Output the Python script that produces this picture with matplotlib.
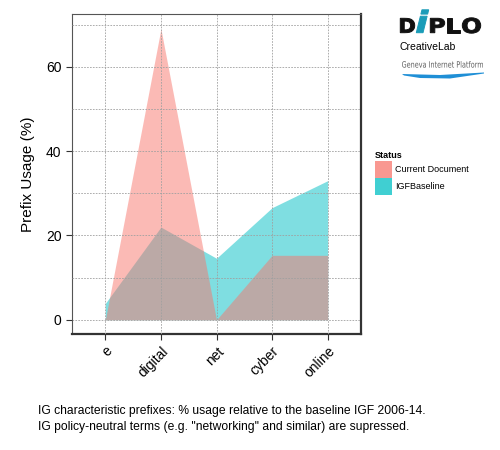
import matplotlib
matplotlib.use("Agg")
import matplotlib.pyplot as plt
from matplotlib.patches import Polygon, Patch, PathPatch
from matplotlib.textpath import TextPath
from matplotlib.font_manager import FontProperties
from matplotlib.transforms import Affine2D
from matplotlib.ticker import MultipleLocator
import numpy as np

plt.rcParams['font.family'] = ['Liberation Sans', 'DejaVu Sans']

prefixes = ["e", "digital", "net", "cyber", "online"]
current_doc = [0.0, 69.0, 0.0, 15.3, 15.3]
igf_baseline = [3.9, 22.0, 14.6, 26.6, 33.0]

status_labels = ["Current Document", "IGFBaseline"]
status_colors = ["#F8766D", "#00BFC4"]

caption = ("IG characteristic prefixes: % usage relative to the baseline IGF 2006-14.\n"
           "IG policy-neutral terms (e.g. \"networking\" and similar) are supressed.")

W, H = 500, 450
fig = plt.figure(figsize=(5, 4.5), dpi=100)
ax = fig.add_axes([0.144, 0.257, 0.578, 0.711])

x = np.arange(len(prefixes))
# baseline first, current document on top (both half transparent)
ax.fill_between(x, 0, igf_baseline, color=status_colors[1], alpha=0.5, linewidth=0, zorder=1)
ax.fill_between(x, 0, current_doc, color=status_colors[0], alpha=0.5, linewidth=0, zorder=1)

ax.set_xlim(-0.6, len(prefixes) - 0.4)
top = max(max(current_doc), max(igf_baseline))
ax.set_ylim(-0.05 * top, 1.05 * top)

ax.set_xticks(x)
ax.set_xticklabels(prefixes, rotation=45, ha="right", va="top", rotation_mode="anchor")
ax.yaxis.set_major_locator(MultipleLocator(20))
ax.yaxis.set_minor_locator(MultipleLocator(10))
ax.tick_params(axis="both", which="major", direction="out", length=4, width=0.8,
               colors="#333333", labelsize=10, labelcolor="#000000")
ax.tick_params(axis="y", which="minor", length=0)
ax.tick_params(axis="x", pad=3)

ax.set_axisbelow(False)
ax.grid(True, which="major", axis="both", color="#a0a0a0", linestyle=(0, (2, 1.5)), linewidth=0.6)
ax.grid(True, which="minor", axis="y", color="#a0a0a0", linestyle=(0, (2, 1.5)), linewidth=0.6)

ax.set_ylabel("Prefix Usage (%)", fontsize=11, labelpad=8)

for side in ["left", "top"]:
    ax.spines[side].set_color("#555555")
    ax.spines[side].set_linewidth(0.8)
for side in ["right", "bottom"]:
    ax.spines[side].set_color("#333333")
    ax.spines[side].set_linewidth(1.6)

# legend
handles = [Patch(facecolor=c, alpha=0.75, edgecolor="none") for c in status_colors]
leg = fig.legend(handles, status_labels, title="Status", loc="upper left",
                 bbox_to_anchor=(375 / W, 1 - 151.5 / H), frameon=False, fontsize=6.5,
                 title_fontsize=6.5, handlelength=1.9, handleheight=2.6,
                 handletextpad=0.35, labelspacing=0.0, borderaxespad=0, borderpad=0)
leg.get_title().set_fontweight("bold")
leg._legend_box.align = "left"

fig.text(38 / W, 1 - 419 / H, caption, fontsize=8.7, va="center", ha="left",
         linespacing=1.5)


# logo: each piece of text stretched into its box (pixel coords from the top-left)
def logo_text(s, x0, x1, ytop, ybot, color, italic=False, weight="bold", stroke=0.0):
    prop = FontProperties(family="DejaVu Sans", weight=weight,
                          style="italic" if italic else "normal")
    path = TextPath((0, 0), s, size=20, prop=prop)
    ext = path.get_extents()
    sx = (x1 - x0) / ext.width
    sy = (ybot - ytop) / ext.height
    tr = Affine2D().translate(-ext.x0, -ext.y0).scale(sx, sy).translate(x0, H - ybot)
    patch = PathPatch(tr.transform_path(path), facecolor=color, edgecolor=color,
                      linewidth=stroke, transform=None)
    fig.patches.append(patch)


logo_text("D", 400.3, 414.7, 18.3, 32.7, "#111111", stroke=0.7)
logo_text("i", 416.3, 428.7, 9.8, 32.7, "#1a9cb8", italic=True, stroke=0.7)
logo_text("P", 430.3, 444.7, 18.3, 32.7, "#111111", stroke=0.7)
logo_text("L", 447.3, 459.7, 18.3, 32.7, "#111111", stroke=0.7)
logo_text("O", 462.3, 480.7, 17.8, 33.2, "#111111", stroke=0.7)

fig.text(399 / W, 1 - 47 / H, "CreativeLab", fontsize=7.5, ha="left", va="center")
logo_text("Geneva Internet Platform", 402, 483, 61, 67.7, "#606060", weight="normal")
swoosh = Polygon([[402 / W, 1 - 74 / H], [440 / W, 1 - 75 / H],
                  [484 / W, 1 - 72.5 / H], [484 / W, 1 - 73.5 / H],
                  [450 / W, 1 - 78.5 / H], [420 / W, 1 - 78 / H],
                  [404 / W, 1 - 75.5 / H]],
                 closed=True, transform=fig.transFigure, facecolor="#1f8fd6",
                 edgecolor="none")
fig.patches.append(swoosh)

fig.savefig("out.png", dpi=100)
